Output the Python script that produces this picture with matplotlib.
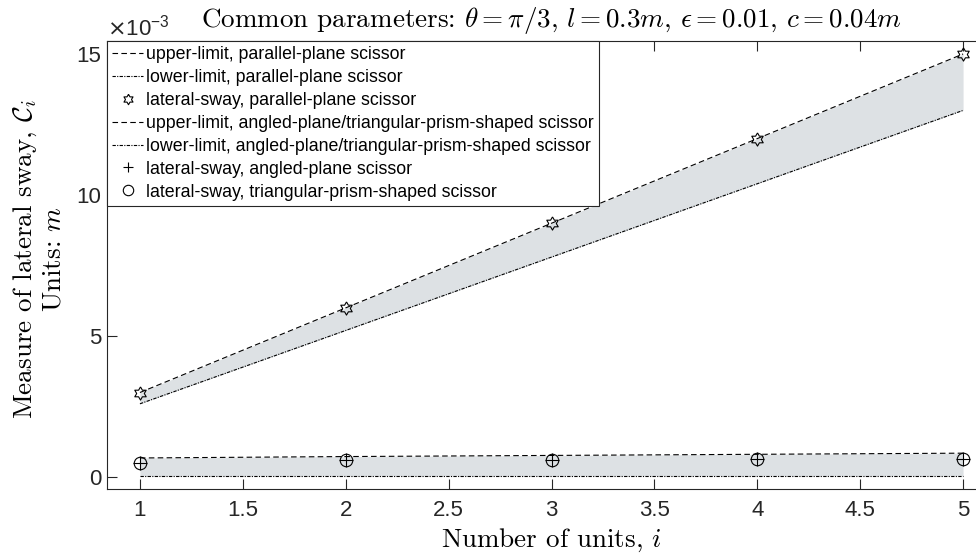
import numpy as np
import matplotlib
matplotlib.use("Agg")
import matplotlib.pyplot as plt
from matplotlib.ticker import FuncFormatter

plt.rcParams['font.family'] = ['Liberation Sans', 'DejaVu Sans']
plt.rcParams['mathtext.fontset'] = 'cm'
plt.rcParams['axes.formatter.use_mathtext'] = True

# data (metres)
units = [1, 2, 3, 4, 5]
parallel_upper = [3.0e-3, 6.0e-3, 9.0e-3, 12.0e-3, 15.0e-3]
parallel_lower = [2.6e-3, 5.2e-3, 7.8e-3, 10.4e-3, 13.0e-3]
parallel_sway = [3.0e-3, 6.0e-3, 9.0e-3, 12.0e-3, 15.0e-3]
angled_upper = [0.68e-3, 0.73e-3, 0.77e-3, 0.81e-3, 0.85e-3]
angled_lower = [0.05e-3, 0.05e-3, 0.05e-3, 0.05e-3, 0.05e-3]
angled_sway = [0.50e-3, 0.60e-3, 0.62e-3, 0.63e-3, 0.64e-3]
prism_sway = [0.50e-3, 0.60e-3, 0.62e-3, 0.63e-3, 0.64e-3]
xticks = [1, 1.5, 2, 2.5, 3, 3.5, 4, 4.5, 5]
yticks = [0, 5e-3, 10e-3, 15e-3]

fill_color = '#dde1e4'
axc = '#262626'

# hexagram marker
ang_out = np.deg2rad(90 + 60 * np.arange(6))
ang_in = np.deg2rad(120 + 60 * np.arange(6))
verts = []
r_in = 1 / np.sqrt(3)
for a, b in zip(ang_out, ang_in):
    verts.append((np.cos(a), np.sin(a)))
    verts.append((r_in * np.cos(b), r_in * np.sin(b)))
verts.append(verts[0])

fig = plt.figure(figsize=(9.76, 5.57), dpi=100)
ax = fig.add_axes([107 / 976, 1 - 489 / 557, 889 / 976, 448 / 557])

ax.fill_between(units, parallel_lower, parallel_upper, color=fill_color, lw=0, zorder=1)
ax.fill_between(units, angled_lower, angled_upper, color=fill_color, lw=0, zorder=1)

lw = 0.8
dash = (0, (5, 3))
dashdot = (0, (3, 1.2, 1, 1.2))
h1, = ax.plot(units, parallel_upper, color='k', lw=lw, ls=dash, zorder=2,
              label='upper-limit, parallel-plane scissor')
h2, = ax.plot(units, parallel_lower, color='k', lw=lw, ls=dashdot, zorder=2,
              label='lower-limit, parallel-plane scissor')
h3, = ax.plot(units, parallel_sway, ls='none', marker=verts, ms=9.5, mfc='none', mec='k',
              mew=0.8, zorder=3, label='lateral-sway, parallel-plane scissor')
h4, = ax.plot(units, angled_upper, color='k', lw=lw, ls=dash, zorder=2,
              label='upper-limit, angled-plane/triangular-prism-shaped scissor')
h5, = ax.plot(units, angled_lower, color='k', lw=lw, ls=dashdot, zorder=2,
              label='lower-limit, angled-plane/triangular-prism-shaped scissor')
h6, = ax.plot(units, angled_sway, ls='none', marker='+', ms=9.5, mec='k', mew=0.8,
              zorder=3, label='lateral-sway, angled-plane scissor')
h7, = ax.plot(units, prism_sway, ls='none', marker='o', ms=9, mfc='none', mec='k',
              mew=0.8, zorder=3, label='lateral-sway, triangular-prism-shaped scissor')

ax.set_xlim(0.84, 5.16)
ax.set_ylim(-0.42e-3, 15.46e-3)
ax.set_xticks(xticks)
ax.set_xticklabels([f'{v:g}' for v in xticks])
ax.set_yticks(yticks)
ax.yaxis.set_major_formatter(FuncFormatter(lambda v, p: f'{v * 1e3:g}'))
ax.tick_params(direction='in', length=7, width=0.8, colors=axc, labelsize=16,
               top=True, right=True)
ax.tick_params(axis='x', pad=8)
ax.tick_params(axis='y', pad=4)
for s in ax.spines.values():
    s.set_color(axc)
    s.set_linewidth(0.8)

ax.text(0.0, 1.013, r'$\times$10$^{\mathregular{-3}}$', transform=ax.transAxes,
        fontsize=16, color=axc, ha='left', va='baseline', math_fontfamily='dejavusans')

ax.set_title(r'Common parameters: $\theta=\pi/3$, $l=0.3m$, $\epsilon=0.01$, $c=0.04m$',
             fontfamily='cmr10', fontsize=19.5, pad=10, x=0.5)
ax.set_xlabel(r'Number of units, $i$', fontfamily='cmr10', fontsize=19.5, labelpad=4)
fig.text(0.04, 0.535, 'Measure of lateral sway, $\\mathcal{C}_i$\nUnits: $m$',
         fontfamily='cmr10', fontsize=19.5, rotation=90, ha='center', va='center',
         multialignment='center', linespacing=1.15)

leg = ax.legend(handles=[h1, h2, h3, h4, h5, h6, h7], loc='upper left',
                borderaxespad=0, fontsize=12.8, handlelength=1.75, handletextpad=0.15,
                labelspacing=0.33, borderpad=0.3, fancybox=False, framealpha=1,
                edgecolor=axc)
leg.get_frame().set_linewidth(0.8)
for hnd in leg.legend_handles:
    hnd.set_markersize(7.5)

fig.savefig('out.png', dpi=100)
